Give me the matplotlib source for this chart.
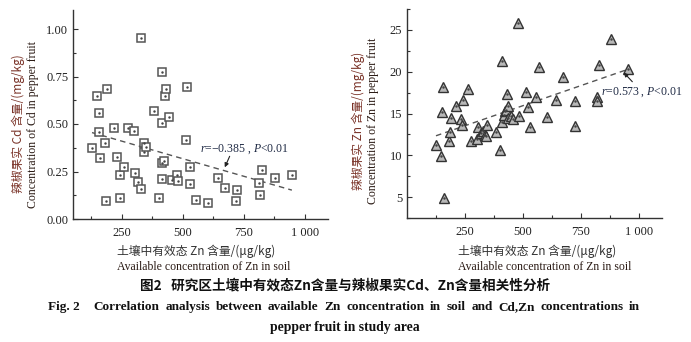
import numpy as np
import matplotlib.pyplot as plt
from matplotlib.ticker import MultipleLocator, FixedLocator

# available Zn in soil (ug/kg) vs Cd in pepper fruit (mg/kg)
cd_x = [128, 148, 155, 155, 162, 189, 183, 186, 216, 232, 243, 243, 261, 277, 300,
        304, 318, 329, 329, 342, 341, 348, 383, 402, 413, 416, 416, 422, 413, 429,
        433, 443, 454, 478, 481, 512, 519, 528, 531, 556, 603, 644, 671, 721, 719,
        814, 817, 823, 879, 947]
cd_y = [0.372, 0.647, 0.556, 0.46, 0.323, 0.683, 0.398, 0.095, 0.48, 0.325, 0.232, 0.112,
        0.272, 0.48, 0.463, 0.24, 0.196, 0.954, 0.158, 0.40, 0.354, 0.377, 0.568, 0.112,
        0.772, 0.504, 0.293, 0.307, 0.21, 0.647, 0.683, 0.535, 0.205, 0.232, 0.20, 0.416,
        0.693, 0.275, 0.183, 0.10, 0.086, 0.217, 0.165, 0.153, 0.095, 0.188, 0.126, 0.258,
        0.217, 0.232]

# available Zn in soil (ug/kg) vs Zn in pepper fruit (mg/kg)
zn_x = [125, 145, 154, 150, 160, 182, 187, 188, 211, 231, 238, 241, 262, 274, 303,
        307, 318, 329, 336, 343, 340, 382, 401, 411, 411, 418, 422, 429, 432, 434,
        436, 447, 458, 479, 482, 515, 520, 530, 556, 569, 604, 642, 673, 723, 723,
        819, 821, 828, 881, 953]
zn_y = [11.29, 9.89, 18.13, 15.14, 4.85, 11.68, 12.76, 14.47, 15.94, 14.36, 13.59, 16.66,
        17.94, 11.77, 11.97, 13.35, 12.68, 12.96, 12.40, 13.59, 12.36, 12.76, 10.61, 21.31,
        13.95, 14.87, 15.26, 15.47, 17.34, 15.94, 14.47, 14.67, 14.39, 25.88, 14.67, 17.53,
        15.79, 13.35, 16.93, 20.51, 14.59, 16.58, 19.37, 16.46, 13.47, 16.93, 16.54, 20.75,
        23.90, 20.36]

x_ticks = [250, 500, 750, 1000]
x_ticklabels = ['250', '500', '750', '1 000']

W, H = 691, 342
SERIF = ['Liberation Serif', 'Noto Sans CJK SC']
CJK = ['Noto Sans CJK SC', 'Liberation Serif']
plt.rcParams['font.family'] = SERIF
plt.rcParams['mathtext.fontset'] = 'custom'
plt.rcParams['mathtext.it'] = 'Liberation Serif:italic'
plt.rcParams['mathtext.rm'] = 'Liberation Serif'

fig = plt.figure(figsize=(W / 100, H / 100), dpi=100)


def px(x, y):
    return x / W, 1 - y / H


def style_axes(ax, xlim, ylim, ymaj, ymin):
    ax.set_xlim(*xlim)
    ax.set_ylim(*ylim)
    ax.xaxis.set_major_locator(FixedLocator(x_ticks))
    ax.xaxis.set_minor_locator(FixedLocator([125, 375, 625, 875]))
    ax.set_xticklabels(x_ticklabels)
    ax.yaxis.set_major_locator(MultipleLocator(ymaj))
    ax.yaxis.set_minor_locator(MultipleLocator(ymin))
    for s in ['top', 'right']:
        ax.spines[s].set_visible(False)
    for s in ['left', 'bottom']:
        ax.spines[s].set_color('#333333')
        ax.spines[s].set_linewidth(1.0)
    ax.tick_params(which='both', direction='in', colors='#333333', labelsize=9,
                   labelcolor='#222222')
    ax.tick_params(which='major', length=3.5, width=0.8)
    ax.tick_params(which='minor', length=2, width=0.8)
    ax.tick_params(axis='x', pad=6)


def trend(ax, x, y):
    k, b = np.polyfit(x, y, 1)
    xs = np.array([min(x), max(x)])
    ax.plot(xs, k * xs + b, ls=(0, (4, 3)), color='#555555', lw=1.0, zorder=1)


def arrow(ax, tail, tip):
    ax.annotate('', xy=tip, xytext=tail,
                arrowprops=dict(arrowstyle='-|>', color='#222222', lw=0.8,
                                mutation_scale=6, shrinkA=0, shrinkB=0))


# left panel: Cd
ax1 = fig.add_axes([73 / W, 1 - 219 / H, 255 / W, 209 / H])
style_axes(ax1, (50, 1095), (0, 1.1), 0.25, 0.125)
ax1.yaxis.set_major_formatter(plt.FormatStrFormatter('%.2f'))
ax1.plot(cd_x, cd_y, ls='none', marker='s', ms=5.5, mfc='white', mec='#555555',
         mew=1.1, zorder=3)
ax1.plot(cd_x, cd_y, ls='none', marker='.', ms=1.5, color='#444444', zorder=4)
trend(ax1, cd_x, cd_y)
ax1.text(570, 0.368, '$r$=\u22120.385 , $P$<0.01', fontsize=8.5, color='#1f2a44',
         va='center', ha='left')
arrow(ax1, (692, 0.33), (672, 0.272))

# right panel: Zn
ax2 = fig.add_axes([407 / W, 1 - 218 / H, 255 / W, 209 / H])
style_axes(ax2, (0, 1100), (2.5, 27.5), 5, 2.5)
ax2.plot(zn_x, zn_y, ls='none', marker='^', ms=7.5, mfc='#b8b8b8', mec='#333333',
         mew=1.0, zorder=3)
ax2.plot(zn_x, zn_y, ls='none', marker='.', ms=1.5, color='#444444', zorder=4)
trend(ax2, zn_x, zn_y)
ax2.text(836, 17.6, '$r$=0.573 , $P$<0.01', fontsize=8.5, color='#1f2a44',
         va='center', ha='left', clip_on=False)
arrow(ax2, (972, 18.8), (935, 19.9))

# axis labels
red = '#7a3328'
for x0, ylab_cn, ylab_en, yc in [(0, '辣椒果实 Cd 含量/(mg/kg)', 'Concentration of Cd in pepper fruit', 124),
                                  (340, '辣椒果实 Zn 含量/(mg/kg)', 'Concentration of Zn in pepper fruit', 121)]:
    fig.text(*px(x0 + 18, yc), ylab_cn, rotation=90, ha='center', va='center',
             fontsize=8.5, color=red, family=CJK)
    fig.text(*px(x0 + 33, yc), ylab_en, rotation=90, ha='center', va='center',
             fontsize=8.5, color='#2a1a14', family=SERIF)

for x0 in [117, 458]:
    fig.text(*px(x0, 251), '土壤中有效态 Zn 含量/(μg/kg)', ha='left', va='center',
             fontsize=8.5, color='#333333', family=CJK)
    fig.text(*px(x0, 267), 'Available concentration of Zn in soil', ha='left',
             va='center', fontsize=8.5, color='#2a1a14', family=SERIF)

# caption
fig.text(*px(345, 285), '图2   研究区土壤中有效态Zn含量与辣椒果实Cd、Zn含量相关性分析',
         ha='center', va='center', fontsize=9.8, weight='bold', color='#111111', family=CJK)

# justified English caption line
words = ['Fig. 2', 'Correlation', 'analysis', 'between', 'available', 'Zn', 'concentration',
         'in', 'soil', 'and', 'Cd,Zn', 'concentrations', 'in']
renderer = fig.canvas.get_renderer()
objs = [fig.text(0, 1 - 307 / H, w, ha='left', va='center', fontsize=9.5, weight='bold',
                 color='#111111', family=SERIF) for w in words]
widths = [o.get_window_extent(renderer).width for o in objs]
left, right = 48, 640
gap_first = 14
gap = (right - left - sum(widths) - gap_first) / (len(words) - 2)
xpos = left
for i, (o, wd) in enumerate(zip(objs, widths)):
    o.set_x(xpos / W)
    xpos += wd + (gap_first if i == 0 else gap)

fig.text(*px(345, 328), 'pepper fruit in study area', ha='center', va='center',
         fontsize=9.8, weight='bold', color='#111111', family=SERIF)

fig.savefig('out.png', dpi=100)
